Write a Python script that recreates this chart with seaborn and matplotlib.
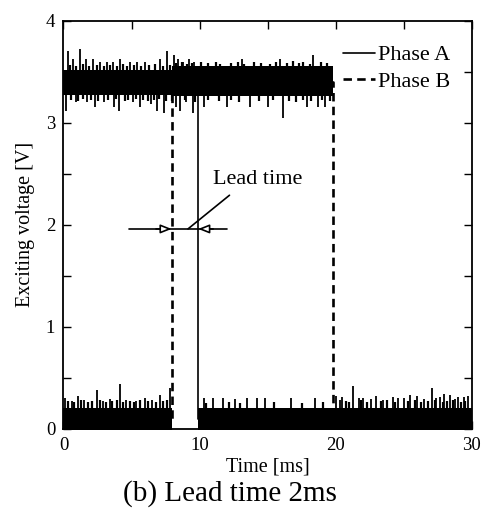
import numpy as np
import pandas as pd
import matplotlib.pyplot as plt
import seaborn as sns
from matplotlib.ticker import MultipleLocator

#-------------------------------
# 1) DATA (read off the scope trace)
#-------------------------------

# ideal switching levels of the two phases [ms], [V]
phase_a_time = [0.0, 9.9, 9.9, 30.0]
phase_a_volt = [3.4, 3.4, 0.1, 0.1]
phase_b_time = [0.0, 7.95, 7.95, 19.8, 19.8, 30.0]
phase_b_volt = [0.1, 0.1, 3.4, 3.4, 0.1, 0.1]

# dense noise band of each level: start, end, lower edge, upper edge
band_a_t0 = [0.0, 9.9]
band_a_t1 = [9.9, 30.0]
band_a_lo = [3.27, -0.10]
band_a_hi = [3.52, 0.21]

band_b_t0 = [0.0, 7.95, 19.8]
band_b_t1 = [7.95, 19.8, 30.0]
band_b_lo = [-0.10, 3.26, -0.10]
band_b_hi = [0.21, 3.56, 0.21]

# isolated noise spikes (time, peak voltage)
spike_a_t = [0.3, 0.7, 1.2, 1.65, 2.2, 2.7, 3.2, 3.65, 4.15, 4.9, 5.4, 6.0, 7.1, 7.6, 8.1, 8.4, 8.8, 9.2, 9.6,
             0.2, 0.9, 1.7, 2.3, 3.0, 3.7, 4.1, 5.1, 5.6, 6.4, 6.9, 7.4, 8.3, 8.6, 9.0, 9.5,
             10.3, 11.0, 11.7, 12.6, 13.5, 14.2, 14.8, 16.7, 18.5, 20.0, 20.5, 21.3, 22.0, 23.0,
             24.2, 25.0, 26.0, 27.1, 27.7, 28.4, 29.0, 29.7]
spike_a_v = [3.70, 3.62, 3.72, 3.62, 3.62, 3.60, 3.60, 3.60, 3.62, 3.60, 3.60, 3.60, 3.62, 3.70, 3.66, 3.62, 3.60, 3.62, 3.60,
             3.12, 3.20, 3.20, 3.15, 3.20, 3.15, 3.12, 3.20, 3.15, 3.18, 3.12, 3.10, 3.15, 3.12, 3.20, 3.10,
             0.30, 0.30, 0.30, 0.29, 0.30, 0.30, 0.30, 0.30, 0.30, 0.32, 0.31, 0.42, 0.30, 0.32,
             0.31, 0.30, 0.32, 0.40, 0.31, 0.33, 0.31, 0.32]

spike_b_t = [0.1, 1.07, 2.44, 4.15, 5.99, 7.1, 7.8, 0.6, 1.5, 2.9, 3.4, 4.6, 5.3, 6.5,
             10.3, 12.0, 13.1, 13.7, 15.0, 15.9, 16.1, 17.9, 18.35, 18.7, 19.2,
             20.3, 21.7, 22.6, 23.5, 24.6, 25.5, 26.5, 27.4, 28.0, 28.8, 29.4]
spike_b_v = [0.30, 0.32, 0.38, 0.44, 0.30, 0.33, 0.40, 0.27, 0.28, 0.27, 0.29, 0.28, 0.27, 0.28,
             3.15, 3.15, 3.62, 3.15, 3.15, 3.62, 3.05, 3.15, 3.66, 3.15, 3.15,
             0.28, 0.30, 0.29, 0.28, 0.30, 0.33, 0.29, 0.30, 0.34, 0.29, 0.31]

# short ragged spikes along the band edges (time, voltage)
fringe_t = [0.45, 0.95, 1.4, 1.9, 2.45, 2.95, 3.45, 3.9, 4.4, 4.65, 5.15, 5.7, 6.25, 6.7, 7.3, 7.85,
            8.25, 8.7, 9.05, 9.45, 10.1, 10.6, 11.2, 11.5, 12.3, 12.8, 13.3, 14.0, 14.5, 15.2, 15.6,
            16.4, 16.9, 17.3, 17.6, 18.1, 18.9, 19.4,
            0.55, 1.1, 1.45, 2.0, 2.55, 3.3, 3.85, 4.5, 4.75, 5.35, 5.85, 6.2, 6.65, 7.05, 7.5,
            8.0, 8.9, 9.7, 10.6, 11.4, 12.3, 12.9, 14.4, 15.4, 16.6, 17.1, 17.6, 18.2, 19.0, 19.6,
            0.35, 0.8, 1.3, 1.8, 2.1, 2.7, 3.1, 3.6, 3.9, 4.4, 4.9, 5.2, 5.6, 6.2, 6.8, 7.3, 7.6,
            10.5, 12.2, 13.0, 15.5, 17.5, 19.1, 20.8, 21.0, 21.9, 22.3, 23.3, 23.8, 24.4, 25.3,
            25.8, 26.3, 26.8, 27.3, 27.9, 28.2, 28.6, 29.2, 29.5]
fringe_v = [3.57, 3.56, 3.58, 3.56, 3.57, 3.56, 3.57, 3.56, 3.58, 3.56, 3.57, 3.56, 3.57, 3.58, 3.56, 3.57,
            3.59, 3.60, 3.58, 3.59, 3.60, 3.59, 3.60, 3.58, 3.59, 3.60, 3.58, 3.60, 3.59, 3.58, 3.60,
            3.59, 3.61, 3.59, 3.60, 3.58, 3.60, 3.59,
            3.22, 3.21, 3.23, 3.22, 3.21, 3.22, 3.23, 3.21, 3.22, 3.23, 3.22, 3.21, 3.22, 3.23, 3.21,
            3.21, 3.22, 3.20, 3.22, 3.21, 3.22, 3.20, 3.21, 3.22, 3.21, 3.20, 3.22, 3.21, 3.22, 3.21,
            0.27, 0.26, 0.28, 0.26, 0.27, 0.28, 0.26, 0.27, 0.28, 0.26, 0.27, 0.26, 0.28, 0.27, 0.26, 0.27, 0.28,
            0.25, 0.26, 0.25, 0.26, 0.25, 0.26, 0.27, 0.26, 0.28, 0.26, 0.27, 0.28, 0.26, 0.27,
            0.28, 0.26, 0.27, 0.28, 0.26, 0.27, 0.28, 0.26, 0.27]

#-------------------------------
# 2) PLOT
#-------------------------------
sns.set_theme(style='ticks')
plt.rcParams['font.family'] = ['Liberation Serif', 'DejaVu Serif']
plt.rcParams['text.color'] = 'black'
plt.rcParams['axes.labelcolor'] = 'black'
plt.rcParams['xtick.color'] = 'black'
plt.rcParams['ytick.color'] = 'black'

fig = plt.figure(figsize=(4.92, 5.14), dpi=100)
ax = fig.add_axes([0.129, 0.1654, 0.8297, 0.7943])

sns.lineplot(x=phase_a_time, y=phase_a_volt, sort=False, estimator=None,
             color='black', lw=1.2, label='Phase A', ax=ax)
sns.lineplot(x=phase_b_time, y=phase_b_volt, sort=False, estimator=None,
             color='black', lw=1.9, linestyle=(0, (3.2, 2.0)), label='Phase B', ax=ax)

# noise bands
for t0s, t1s, los, his in [(band_a_t0, band_a_t1, band_a_lo, band_a_hi),
                           (band_b_t0, band_b_t1, band_b_lo, band_b_hi)]:
    for t0, t1, lo, hi in zip(t0s, t1s, los, his):
        ax.fill_between([t0, t1], [lo, lo], [hi, hi], color='black', lw=0)

# spikes start from the middle of the band they belong to
for ts, vs, w in [(spike_a_t, spike_a_v, 1.3), (spike_b_t, spike_b_v, 1.3), (fringe_t, fringe_v, 1.6)]:
    base = [3.4 if v > 1.5 else 0.1 for v in vs]
    ax.vlines(ts, base, vs, color='black', lw=w)

# lead time marker
ax.plot([4.84, 12.0], [1.96, 1.96], color='black', lw=1.2)
arrow = dict(arrowstyle='-|>,head_length=0.55,head_width=0.22', fc='white', ec='black',
             lw=1.2, shrinkA=0, shrinkB=0)
ax.annotate('', xy=(7.95, 1.96), xytext=(6.8, 1.96), arrowprops=arrow)
ax.annotate('', xy=(9.9, 1.96), xytext=(11.0, 1.96), arrowprops=arrow)
ax.plot([9.15, 12.2], [1.96, 2.29], color='black', lw=1.2)
ax.text(11.0, 2.4, 'Lead time', fontsize=16, ha='left', va='baseline')

ax.set_xlim(0, 30)
ax.set_ylim(0, 4)
ax.xaxis.set_major_locator(MultipleLocator(10))
ax.xaxis.set_minor_locator(MultipleLocator(5))
ax.yaxis.set_major_locator(MultipleLocator(1))
ax.yaxis.set_minor_locator(MultipleLocator(0.5))
ax.tick_params(which='both', direction='in', top=True, right=True,
               length=6, width=1.0, color='black', labelsize=13.5, pad=6)
for s in ax.spines.values():
    s.set_linewidth(1.3)
    s.set_color('black')

ax.set_xlabel('Time [ms]', fontsize=14.5, labelpad=2)
ax.set_ylabel('Exciting voltage [V]', fontsize=14.5, labelpad=8)

ax.legend(loc='upper left', bbox_to_anchor=(0.658, 0.968), frameon=False, fontsize=16,
          handlelength=1.45, handletextpad=0.1, borderpad=0, labelspacing=0.25)

fig.text(0.4675, 0.039, '(b) Lead time 2ms', fontsize=21, ha='center', va='center')

fig.savefig('out.png', dpi=100)
